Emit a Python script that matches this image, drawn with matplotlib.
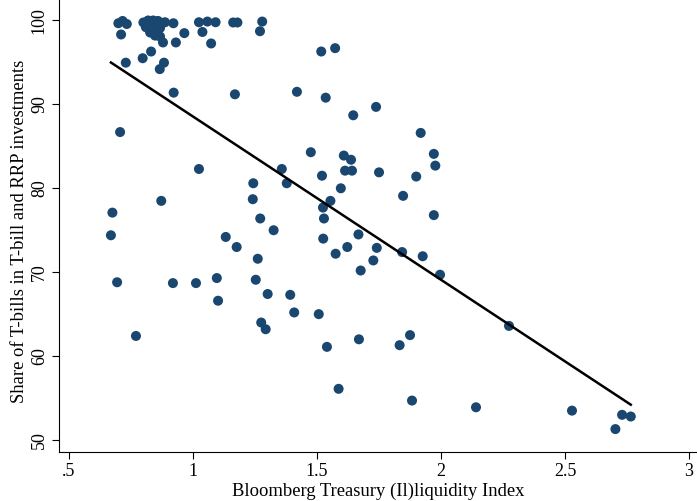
import numpy as np
import matplotlib
matplotlib.use("Agg")
import matplotlib.pyplot as plt

# Bloomberg illiquidity index vs share of T-bills in T-bill + RRP investments
liquidity = [
    0.699, 0.716, 0.733, 0.710, 0.800, 0.819, 0.839, 0.859, 0.887, 0.921,
    0.827, 0.854, 0.867, 0.879, 0.931, 0.965, 1.024, 1.058, 1.091, 1.038,
    1.073, 1.162, 1.179, 1.279, 1.270, 0.810, 0.835, 0.867, 0.847, 0.845,
    0.825,
    0.831, 0.797, 0.729, 0.883, 0.866, 0.922, 1.169, 1.419, 0.706, 1.024,
    1.243, 1.378, 1.358, 0.872, 0.675, 1.241, 0.669, 1.271, 1.325, 1.132,
    1.176, 1.261, 0.694, 0.919, 1.012, 1.096, 1.253, 1.101, 1.301, 1.392,
    1.408, 1.275, 1.293, 0.770,
    1.517, 1.573, 1.535, 1.738, 1.646, 1.918, 1.475, 1.608, 1.637, 1.971,
    1.977, 1.520, 1.613, 1.641, 1.750, 1.900, 1.596, 1.847, 1.554, 1.524,
    1.528, 1.971, 1.525, 1.667, 1.622, 1.741, 1.575, 1.727, 1.676, 1.843,
    1.926, 1.996, 1.507, 1.669, 1.540, 1.875, 1.833, 1.587, 1.883, 2.141,
    2.274, 2.528, 2.730, 2.765, 2.703,
]
tbill_share = [
    99.67, 99.94, 99.58, 98.33, 99.76, 100.0, 100.0, 99.94, 99.79, 99.67,
    98.57, 98.57, 98.09, 97.38, 97.38, 98.49, 99.79, 99.87, 99.79, 98.63,
    97.26, 99.76, 99.76, 99.87, 98.72, 99.2, 99.2, 99.1, 98.2, 99.9,
    99.5,
    96.3, 95.5, 94.97, 94.97, 94.2, 91.4, 91.2, 91.5, 86.7, 82.3,
    80.6, 80.6, 82.3, 78.5, 77.1, 78.7, 74.4, 76.4, 75.0, 74.2,
    73.0, 71.6, 68.8, 68.7, 68.7, 69.3, 69.1, 66.6, 67.4, 67.3,
    65.2, 64.0, 63.2, 62.4,
    96.3, 96.7, 90.8, 89.7, 88.7, 86.6, 84.3, 83.9, 83.4, 84.1,
    82.7, 81.5, 82.1, 82.1, 81.9, 81.4, 80.0, 79.1, 78.5, 77.7,
    76.4, 76.8, 74.0, 74.5, 73.0, 72.9, 72.2, 71.4, 70.2, 72.4,
    71.9, 69.7, 65.0, 62.0, 61.1, 62.5, 61.3, 56.1, 54.7, 53.9,
    63.6, 53.5, 53.0, 52.8, 51.3,
]

x_ticks = [0.5, 1, 1.5, 2, 2.5, 3]
x_ticklabels = [".5", "1", "1.5", "2", "2.5", "3"]
y_ticks = [50, 60, 70, 80, 90, 100]

plt.rcParams["font.family"] = ["Liberation Serif", "DejaVu Serif"]

fig = plt.figure(figsize=(6.97, 5.01), dpi=100)
ax = fig.add_axes([59 / 697, 49 / 501, 638 / 697, 452 / 501])

x = np.array(liquidity)
y = np.array(tbill_share)
ax.scatter(x, y, s=52, color="#1a476f", edgecolors="none", zorder=3)

# linear fit over the observed range
slope, intercept = np.polyfit(x, y, 1)
xs = np.array([x.min(), x.max()])
ax.plot(xs, intercept + slope * xs, color="black", lw=1.8, zorder=4)

ax.set_xlim(0.4597, 3.032)
ax.set_ylim(48.57, 102.44)
ax.set_xticks(x_ticks)
ax.set_xticklabels(x_ticklabels)
ax.set_yticks(y_ticks)
for lab in ax.get_yticklabels():
    lab.set_rotation(90)
    lab.set_va("center")

ax.tick_params(direction="out", length=5, width=0.8, labelsize=13, pad=3)
ax.spines["top"].set_visible(False)
ax.spines["right"].set_visible(False)
for s in ("left", "bottom"):
    ax.spines[s].set_linewidth(0.8)

ax.set_xlabel("Bloomberg Treasury (Il)liquidity Index", fontsize=13.4, labelpad=2)
ax.set_ylabel("Share of T-bills in T-bill and RRP investments", fontsize=13.4)
ax.yaxis.set_label_coords(-0.049, 0.489)

fig.savefig("out.png", dpi=100)
